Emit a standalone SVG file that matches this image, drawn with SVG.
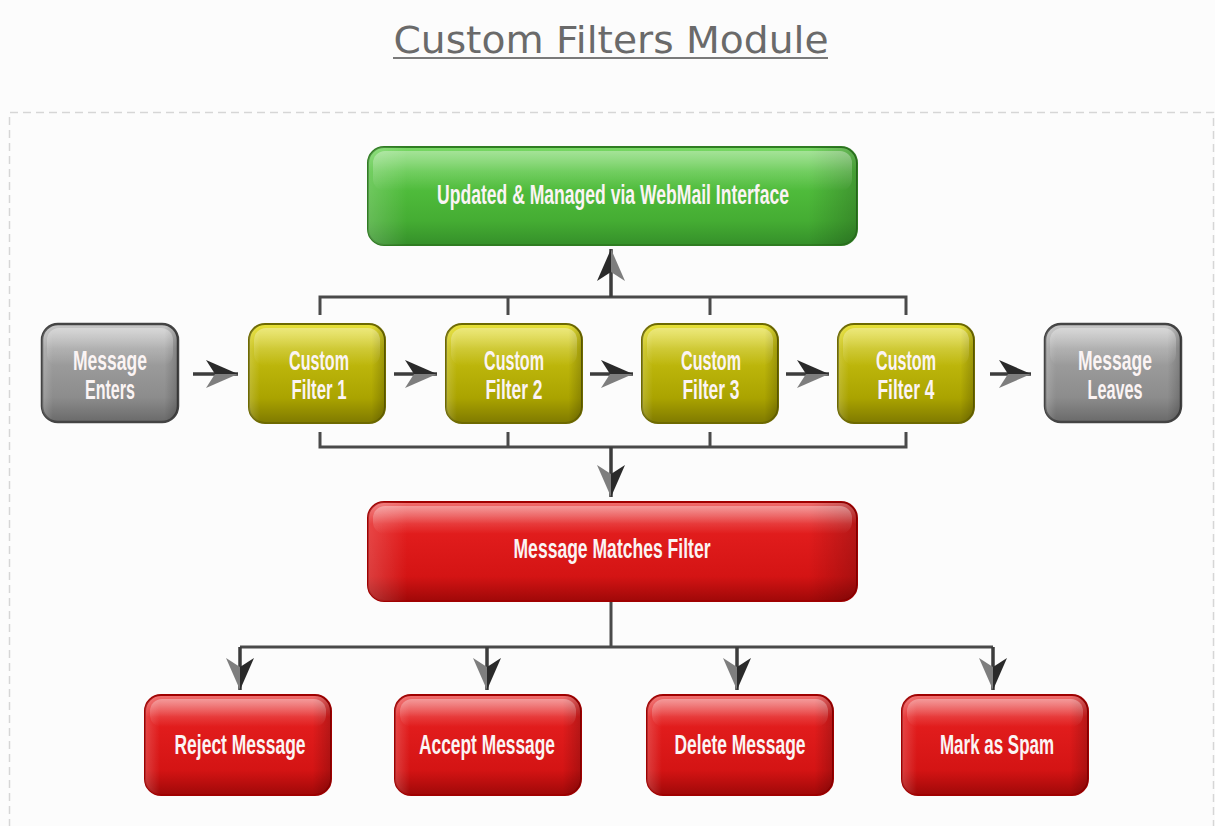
<svg xmlns="http://www.w3.org/2000/svg" width="1215" height="826" viewBox="0 0 1215 826">
<style>
.lbl{font-family:"Liberation Sans",Arial,sans-serif;font-weight:bold;font-size:27px;fill:#fbf4f4;text-anchor:middle}
.wire{fill:none;stroke:#4a4a4a;stroke-width:3}
.arr{fill:none;stroke:#3c3c3c;stroke-width:3.5;marker-end:url(#head)}
.gloss{fill:url(#gloss)}
.shade{fill:url(#shade)}
</style>
<defs>
<marker id="head" markerUnits="userSpaceOnUse" markerWidth="40" markerHeight="32" viewBox="-34 -16 40 32" refX="0" refY="0" orient="auto" overflow="visible">
<path d="M0 0 L-32 -14 L-23 0 Z" fill="#2a2a2a"/>
<path d="M0 0 L-23 0 L-32 14 Z" fill="#7e7e7e"/>
</marker>
<linearGradient id="gGreen" x1="0" y1="0" x2="0" y2="1">
<stop offset="0" stop-color="#7ad866"/><stop offset="0.25" stop-color="#55c440"/><stop offset="0.75" stop-color="#45ad33"/><stop offset="1" stop-color="#35902a"/>
</linearGradient>
<linearGradient id="gYellow" x1="0" y1="0" x2="0" y2="1">
<stop offset="0" stop-color="#e8e23a"/><stop offset="0.25" stop-color="#c6bf10"/><stop offset="0.75" stop-color="#aaa300"/><stop offset="1" stop-color="#7f7a00"/>
</linearGradient>
<linearGradient id="gGray" x1="0" y1="0" x2="0" y2="1">
<stop offset="0" stop-color="#c9c9c9"/><stop offset="0.25" stop-color="#a2a2a2"/><stop offset="0.75" stop-color="#8c8c8c"/><stop offset="1" stop-color="#6a6a6a"/>
</linearGradient>
<linearGradient id="gRed" x1="0" y1="0" x2="0" y2="1">
<stop offset="0" stop-color="#f07272"/><stop offset="0.22" stop-color="#e41e1e"/><stop offset="0.75" stop-color="#d41414"/><stop offset="1" stop-color="#a00808"/>
</linearGradient>
<linearGradient id="gloss" x1="0" y1="0" x2="0" y2="1">
<stop offset="0" stop-color="#ffffff" stop-opacity="0.35"/><stop offset="1" stop-color="#ffffff" stop-opacity="0"/>
</linearGradient>
<linearGradient id="shade" x1="0" y1="0" x2="1" y2="0">
<stop offset="0" stop-color="#ffffff" stop-opacity="0.18"/><stop offset="0.08" stop-color="#ffffff" stop-opacity="0"/><stop offset="0.9" stop-color="#000000" stop-opacity="0"/><stop offset="1" stop-color="#000000" stop-opacity="0.2"/>
</linearGradient>
</defs>
<rect x="0" y="0" width="1215" height="826" fill="#fcfcfc"/>
<path d="M9.5 840 V112.5 H1213.5 V840" fill="none" stroke="#d6d6d6" stroke-width="1.5" stroke-dasharray="8 5"/>
<g id="title">
<text x="611" y="53" font-family="DejaVu Sans,Verdana,sans-serif" font-size="38" fill="#6a6a6a" text-anchor="middle" textLength="435" lengthAdjust="spacingAndGlyphs">Custom Filters Module</text>
<rect x="393" y="57" width="435" height="2" fill="#7a7a7a"/>
</g>
<g id="connectors">
<path class="wire" d="M320 315 V297 H906 V315 M508 297 V315 M710 297 V315"/>
<path class="arr" d="M611 297 V249"/>
<path class="wire" d="M320 432 V447 H906 V432 M508 432 V447 M710 432 V447"/>
<path class="arr" d="M611 447 V497"/>
<path class="wire" d="M611 601 V647 M240 647 H993"/>
<path class="arr" d="M240 647 V690"/>
<path class="arr" d="M487 647 V690"/>
<path class="arr" d="M737 647 V690"/>
<path class="arr" d="M993 647 V690"/>
<path class="arr" d="M193 374 H238"/>
<path class="arr" d="M394 374 H437"/>
<path class="arr" d="M590 374 H633"/>
<path class="arr" d="M786 374 H829"/>
<path class="arr" d="M990 374 H1031"/>
</g>
<g id="webmail">
<rect x="368" y="147" width="489" height="98" rx="16" fill="url(#gGreen)" stroke="#2f7d22" stroke-width="2"/>
<rect x="368" y="147" width="489" height="98" rx="16" class="shade"/>
<rect x="373" y="151" width="479" height="40" rx="12" class="gloss"/>
<text class="lbl" x="613" y="204" textLength="352" lengthAdjust="spacingAndGlyphs">Updated &amp; Managed via WebMail Interface</text>
</g>
<g id="enters">
<rect x="42" y="324" width="136" height="98" rx="16" fill="url(#gGray)" stroke="#444" stroke-width="2.5"/>
<rect x="42" y="324" width="136" height="98" rx="16" class="shade"/>
<rect x="47" y="328" width="126" height="38" rx="12" class="gloss"/>
<text class="lbl" x="110" y="370" textLength="74" lengthAdjust="spacingAndGlyphs">Message</text>
<text class="lbl" x="110" y="399" textLength="50" lengthAdjust="spacingAndGlyphs">Enters</text>
</g>
<g id="filter1">
<rect x="249" y="324" width="136" height="99" rx="16" fill="url(#gYellow)" stroke="#6e6a00" stroke-width="2"/>
<rect x="249" y="324" width="136" height="99" rx="16" class="shade"/>
<rect x="254" y="328" width="126" height="38" rx="12" class="gloss"/>
<text class="lbl" x="319" y="370" textLength="60" lengthAdjust="spacingAndGlyphs">Custom</text>
<text class="lbl" x="319" y="399" textLength="55" lengthAdjust="spacingAndGlyphs">Filter 1</text>
</g>
<g id="filter2">
<rect x="446" y="324" width="136" height="99" rx="16" fill="url(#gYellow)" stroke="#6e6a00" stroke-width="2"/>
<rect x="446" y="324" width="136" height="99" rx="16" class="shade"/>
<rect x="451" y="328" width="126" height="38" rx="12" class="gloss"/>
<text class="lbl" x="514" y="370" textLength="60" lengthAdjust="spacingAndGlyphs">Custom</text>
<text class="lbl" x="514" y="399" textLength="57" lengthAdjust="spacingAndGlyphs">Filter 2</text>
</g>
<g id="filter3">
<rect x="642" y="324" width="136" height="99" rx="16" fill="url(#gYellow)" stroke="#6e6a00" stroke-width="2"/>
<rect x="642" y="324" width="136" height="99" rx="16" class="shade"/>
<rect x="647" y="328" width="126" height="38" rx="12" class="gloss"/>
<text class="lbl" x="711" y="370" textLength="60" lengthAdjust="spacingAndGlyphs">Custom</text>
<text class="lbl" x="711" y="399" textLength="57" lengthAdjust="spacingAndGlyphs">Filter 3</text>
</g>
<g id="filter4">
<rect x="838" y="324" width="136" height="99" rx="16" fill="url(#gYellow)" stroke="#6e6a00" stroke-width="2"/>
<rect x="838" y="324" width="136" height="99" rx="16" class="shade"/>
<rect x="843" y="328" width="126" height="38" rx="12" class="gloss"/>
<text class="lbl" x="906" y="370" textLength="60" lengthAdjust="spacingAndGlyphs">Custom</text>
<text class="lbl" x="906" y="399" textLength="57" lengthAdjust="spacingAndGlyphs">Filter 4</text>
</g>
<g id="leaves">
<rect x="1045" y="324" width="136" height="98" rx="16" fill="url(#gGray)" stroke="#444" stroke-width="2.5"/>
<rect x="1045" y="324" width="136" height="98" rx="16" class="shade"/>
<rect x="1050" y="328" width="126" height="38" rx="12" class="gloss"/>
<text class="lbl" x="1115" y="370" textLength="74" lengthAdjust="spacingAndGlyphs">Message</text>
<text class="lbl" x="1115" y="399" textLength="55" lengthAdjust="spacingAndGlyphs">Leaves</text>
</g>
<g id="matches">
<rect x="368" y="502" width="489" height="99" rx="16" fill="url(#gRed)" stroke="#a00000" stroke-width="2"/>
<rect x="368" y="502" width="489" height="99" rx="16" class="shade"/>
<rect x="373" y="506" width="479" height="28" rx="12" class="gloss"/>
<text class="lbl" x="612" y="558" textLength="197" lengthAdjust="spacingAndGlyphs">Message Matches Filter</text>
</g>
<g id="reject">
<rect x="145" y="695" width="186" height="100" rx="16" fill="url(#gRed)" stroke="#a00000" stroke-width="2"/>
<rect x="145" y="695" width="186" height="100" rx="16" class="shade"/>
<rect x="150" y="699" width="176" height="28" rx="12" class="gloss"/>
<text class="lbl" x="240" y="754" textLength="131" lengthAdjust="spacingAndGlyphs">Reject Message</text>
</g>
<g id="accept">
<rect x="395" y="695" width="186" height="100" rx="16" fill="url(#gRed)" stroke="#a00000" stroke-width="2"/>
<rect x="395" y="695" width="186" height="100" rx="16" class="shade"/>
<rect x="400" y="699" width="176" height="28" rx="12" class="gloss"/>
<text class="lbl" x="487" y="754" textLength="136" lengthAdjust="spacingAndGlyphs">Accept Message</text>
</g>
<g id="delete">
<rect x="647" y="695" width="186" height="100" rx="16" fill="url(#gRed)" stroke="#a00000" stroke-width="2"/>
<rect x="647" y="695" width="186" height="100" rx="16" class="shade"/>
<rect x="652" y="699" width="176" height="28" rx="12" class="gloss"/>
<text class="lbl" x="740" y="754" textLength="131" lengthAdjust="spacingAndGlyphs">Delete Message</text>
</g>
<g id="spam">
<rect x="902" y="695" width="186" height="100" rx="16" fill="url(#gRed)" stroke="#a00000" stroke-width="2"/>
<rect x="902" y="695" width="186" height="100" rx="16" class="shade"/>
<rect x="907" y="699" width="176" height="28" rx="12" class="gloss"/>
<text class="lbl" x="997" y="754" textLength="114" lengthAdjust="spacingAndGlyphs">Mark as Spam</text>
</g>
</svg>
